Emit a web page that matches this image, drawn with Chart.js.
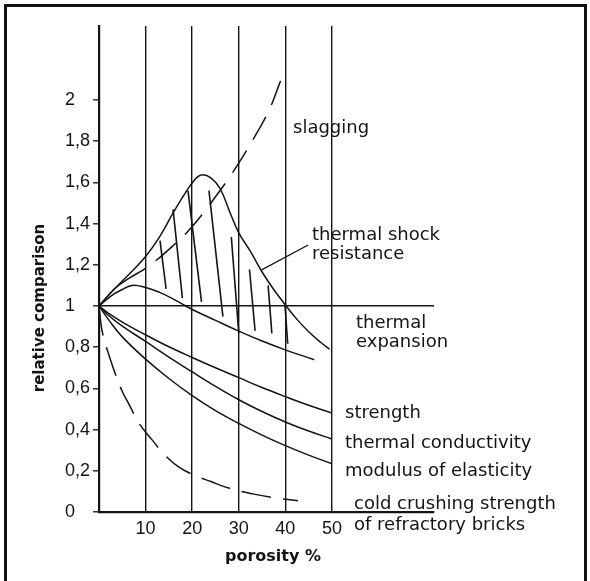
<!DOCTYPE html>
<html><head><meta charset="utf-8">
<script src="https://cdn.jsdelivr.net/npm/chart.js@4"></script>
<style>html,body{margin:0;padding:0;background:#fff}#c{display:block}</style>
</head><body>
<canvas id="c" width="590" height="581"></canvas>
<script>
// ---- axis ticks ----
const xTickValues = [10, 20, 30, 40, 50];
const xTickLabels = ['10', '20', '30', '40', '50'];
const yTickValues = [0, 0.2, 0.4, 0.6, 0.8, 1, 1.2, 1.4, 1.6, 1.8, 2];
const yTickLabels = ['0', '0,2', '0,4', '0,6', '0,8', '1', '1,2', '1,4', '1,6', '1,8', '2'];

// ---- series (porosity %, relative comparison) ----
const slaggingX = [0, 3.4, 6.5, 10, 13, 16, 19, 22, 25, 28, 31, 34, 36.5, 39];
const slaggingY = [1, 1.085, 1.135, 1.183, 1.235, 1.295, 1.36, 1.44, 1.53, 1.625, 1.73, 1.845, 1.95, 2.095];

const shockX = [0, 3.4, 6.5, 10, 13, 16, 18.7, 20.5, 22, 24, 26, 28, 30, 32.5, 35, 37.5, 40, 42.5, 45, 47.5, 49.5];
const shockY = [1, 1.085, 1.155, 1.24, 1.335, 1.455, 1.555, 1.612, 1.636, 1.622, 1.57, 1.46, 1.355, 1.265, 1.165, 1.08, 1.005, 0.935, 0.875, 0.825, 0.79];

const expansionX = [0, 3, 5, 7.1, 10, 13, 15.7, 18.2, 20, 25, 30, 35, 40, 46.2];
const expansionY = [1, 1.055, 1.08, 1.1, 1.09, 1.066, 1.037, 1.005, 0.983, 0.93, 0.878, 0.83, 0.787, 0.739];

const strengthX = [0, 2, 5, 10, 15, 20, 25, 30, 35, 40, 45, 50];
const strengthY = [1, 0.965, 0.922, 0.86, 0.802, 0.75, 0.70, 0.652, 0.604, 0.56, 0.518, 0.48];

const conductivityX = [0, 2, 5, 10, 15, 20, 25, 30, 35, 40, 45, 50];
const conductivityY = [1, 0.955, 0.902, 0.828, 0.752, 0.68, 0.61, 0.545, 0.488, 0.437, 0.393, 0.354];

const modulusX = [0, 2, 5, 10, 15, 20, 25, 30, 35, 40, 45, 50];
const modulusY = [1, 0.935, 0.85, 0.742, 0.648, 0.565, 0.492, 0.43, 0.373, 0.322, 0.276, 0.234];

const crushingX = [0, 0.5, 1.2, 2.3, 3.5, 5, 6.5, 8.6, 11.4, 14, 17, 20, 24, 28, 33, 38, 42.7];
const crushingY = [1, 0.9, 0.83, 0.75, 0.67, 0.585, 0.52, 0.43, 0.35, 0.28, 0.22, 0.183, 0.148, 0.115, 0.088, 0.068, 0.055];

// hatching strokes between thermal shock resistance and thermal expansion: [x1, y1, x2, y2]
const hatchStrokes = [
  [13.1, 1.317, 14.4, 1.083],
  [15.9, 1.469, 17.9, 1.038],
  [19.1, 1.56, 22.0, 1.02],
  [23.6, 1.56, 26.6, 0.948],
  [28.4, 1.335, 30.0, 0.867],
  [32.3, 1.177, 33.5, 0.88],
  [36.3, 1.10, 37.1, 0.867],
  [39.9, 1.01, 40.5, 0.817]
];
// leader line from the "thermal shock resistance" label to its curve
const leaderX = [34.9, 44.9];
const leaderY = [1.175, 1.296];

const INK = '#141414';
const pts = (xs, ys) => xs.map((x, i) => ({x: x, y: ys[i]}));
function curve(label, xs, ys, extra) {
  return Object.assign({
    label: label, data: pts(xs, ys), borderColor: INK, borderWidth: 1.5,
    pointRadius: 0, fill: false, tension: 0.4
  }, extra || {});
}

const datasets = [
  curve('slagging', slaggingX, slaggingY, {
    segment: {borderDash: ctx => ctx.p0.parsed.x < 10 ? [] : [26, 13]},
    borderDashOffset: 26
  }),
  curve('thermal shock resistance', shockX, shockY),
  curve('thermal expansion', expansionX, expansionY),
  curve('strength', strengthX, strengthY),
  curve('thermal conductivity', conductivityX, conductivityY),
  curve('modulus of elasticity', modulusX, modulusY),
  curve('cold crushing strength of refractory bricks', crushingX, crushingY, {borderDash: [30, 12]}),
  curve('leader', leaderX, leaderY, {borderWidth: 1.3, tension: 0})
];
hatchStrokes.forEach((h, i) => {
  datasets.push(curve('hatch ' + (i + 1), [h[0], h[2]], [h[1], h[3]], {borderWidth: 1.6, tension: 0}));
});

const textFont = '18px "DejaVu Sans"';
const annotations = [
  {lines: ['slagging'], x: 293, y: 133},
  {lines: ['thermal shock', 'resistance'], x: 312, y: 240, lh: 19},
  {lines: ['thermal', 'expansion'], x: 356, y: 328, lh: 19},
  {lines: ['strength'], x: 345, y: 418},
  {lines: ['thermal conductivity'], x: 345, y: 448},
  {lines: ['modulus of elasticity'], x: 345, y: 476},
  {lines: ['cold crushing strength', 'of refractory bricks'], x: 354, y: 509, lh: 21}
];

const decor = {
  id: 'decor',
  beforeDraw(chart) {
    const c = chart.ctx;
    c.save();
    c.fillStyle = '#fff';
    c.fillRect(0, 0, chart.width, chart.height);
    c.restore();
  },
  afterDraw(chart) {
    const c = chart.ctx;
    c.save();
    // frame
    c.strokeStyle = '#111';
    c.lineWidth = 3;
    c.beginPath();
    c.moveTo(5.5, 581); c.lineTo(5.5, 5.5); c.lineTo(585.5, 5.5); c.lineTo(585.5, 581);
    c.stroke();
    // annotations
    c.fillStyle = INK;
    c.font = textFont;
    c.textAlign = 'left';
    c.textBaseline = 'alphabetic';
    annotations.forEach(a => a.lines.forEach((t, i) => c.fillText(t, a.x, a.y + i * (a.lh || 0))));
    // axis titles
    c.font = 'bold 16px "DejaVu Sans"';
    c.textAlign = 'center';
    c.fillText('porosity %', 273, 561);
    c.translate(43.5, 308);
    c.rotate(-Math.PI / 2);
    c.font = 'bold 15px "DejaVu Sans"';
    c.fillText('relative comparison', 0, 0);
    c.restore();
  }
};

new Chart(document.getElementById('c'), {
  type: 'line',
  data: {datasets: datasets},
  plugins: [decor],
  options: {
    responsive: false, animation: false, devicePixelRatio: 1,
    layout: {padding: {left: 65, right: 156, top: 26, bottom: 0}},
    plugins: {legend: {display: false}, tooltip: {enabled: false}},
    elements: {line: {borderCapStyle: 'butt'}},
    scales: {
      x: {
        type: 'linear', min: 0, max: 71.9,
        afterBuildTicks: s => { s.ticks = xTickValues.map(v => ({value: v})); },
        afterFit: s => { s.height = 69; },
        grid: {color: INK, lineWidth: 1.4, drawTicks: false},
        border: {color: INK, width: 2.2},
        ticks: {
          callback: (v, i) => xTickLabels[i], autoSkip: false, maxRotation: 0,
          font: {family: '"Liberation Sans"', size: 18}, color: INK, padding: 6
        }
      },
      y: {
        type: 'linear', min: 0, max: 2.359,
        afterBuildTicks: s => { s.ticks = yTickValues.map(v => ({value: v})); },
        afterFit: s => { s.width = 34; },
        grid: {
          color: ctx => (ctx.tick && ctx.tick.value === 1) ? INK : 'rgba(0,0,0,0)',
          lineWidth: 1.6, tickColor: INK, tickLength: 6, tickWidth: 1.3
        },
        border: {color: INK, width: 2.2},
        ticks: {
          callback: (v, i) => yTickLabels[i], autoSkip: false, crossAlign: 'far',
          font: {family: '"Liberation Sans"', size: 18}, color: INK, padding: 4
        }
      }
    }
  }
});
</script>
</body></html>
